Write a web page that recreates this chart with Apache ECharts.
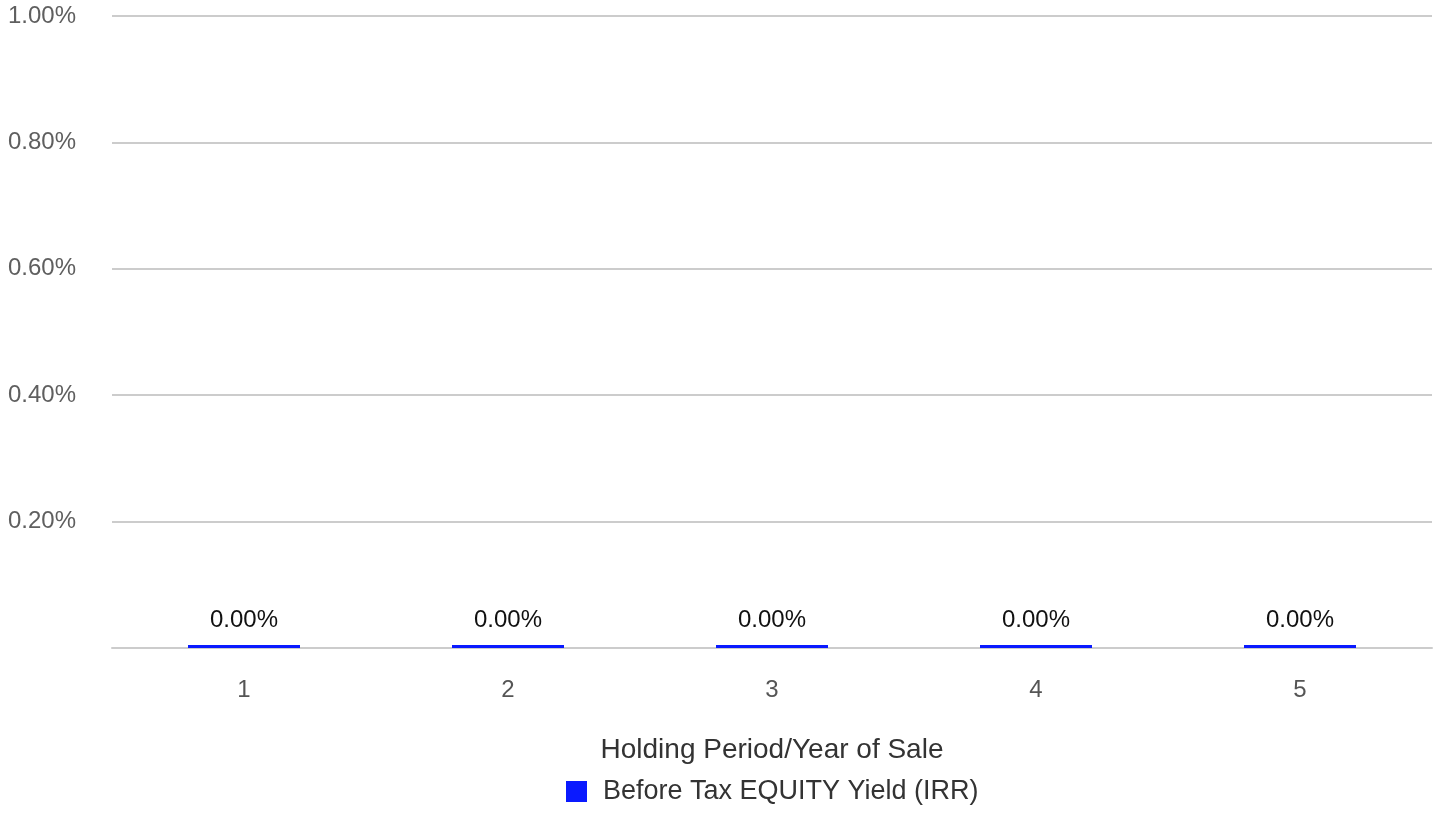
<!DOCTYPE html>
<html>
<head>
<meta charset="utf-8">
<script src="https://cdn.jsdelivr.net/npm/echarts@6/dist/echarts.min.js"></script>
<style>
  html, body { margin: 0; padding: 0; background: #fff; }
  #chart { width: 1439px; height: 830px; }
</style>
</head>
<body>
<div id="chart"></div>
<script>
// Holding periods (years) and the before-tax equity IRR for each, in percent
const years = ['1', '2', '3', '4', '5'];
const irrValues = [0, 0, 0, 0, 0];
const seriesName = 'Before Tax EQUITY Yield (IRR)';
const axisTitle = 'Holding Period/Year of Sale';

const font = '"Liberation Sans", Arial, Helvetica, sans-serif';
const chart = echarts.init(document.getElementById('chart'));

chart.setOption({
  animation: false,
  textStyle: { fontFamily: font },
  grid: { left: 112, right: 7, top: 16, bottom: 182, containLabel: false },
  legend: {
    top: 773,
    left: 561,
    itemWidth: 21,
    itemHeight: 21,
    itemGap: 10,
    icon: 'rect',
    textStyle: { fontSize: 27, color: '#333', fontFamily: font, padding: [0, 0, 0, 11] },
    data: [seriesName]
  },
  xAxis: {
    type: 'category',
    data: years,
    name: axisTitle,
    nameLocation: 'middle',
    nameGap: 88,
    nameTextStyle: { fontSize: 28, color: '#333', fontFamily: font },
    axisLine: { show: true, lineStyle: { color: '#cccccc', width: 2 } },
    axisTick: { show: false },
    axisLabel: { fontSize: 24, color: '#555', margin: 30, fontFamily: font }
  },
  yAxis: {
    type: 'value',
    min: 0,
    max: 1,
    interval: 0.2,
    axisLine: { show: false },
    axisTick: { show: false },
    splitLine: { lineStyle: { color: '#cccccc', width: 2 } },
    axisLabel: {
      fontSize: 24,
      color: '#5f5f5f',
      margin: 36,
      fontFamily: font,
      formatter: v => (v === 0 ? '' : v.toFixed(2) + '%')
    }
  },
  series: [{
    name: seriesName,
    type: 'bar',
    data: irrValues,
    barWidth: 112,
    barMinHeight: 3,
    itemStyle: { color: '#0a1aff' },
    label: {
      show: true,
      position: 'top',
      distance: 13,
      fontSize: 24,
      color: '#111',
      fontFamily: font,
      formatter: p => Number(p.value).toFixed(2) + '%'
    }
  }]
});
</script>
</body>
</html>
